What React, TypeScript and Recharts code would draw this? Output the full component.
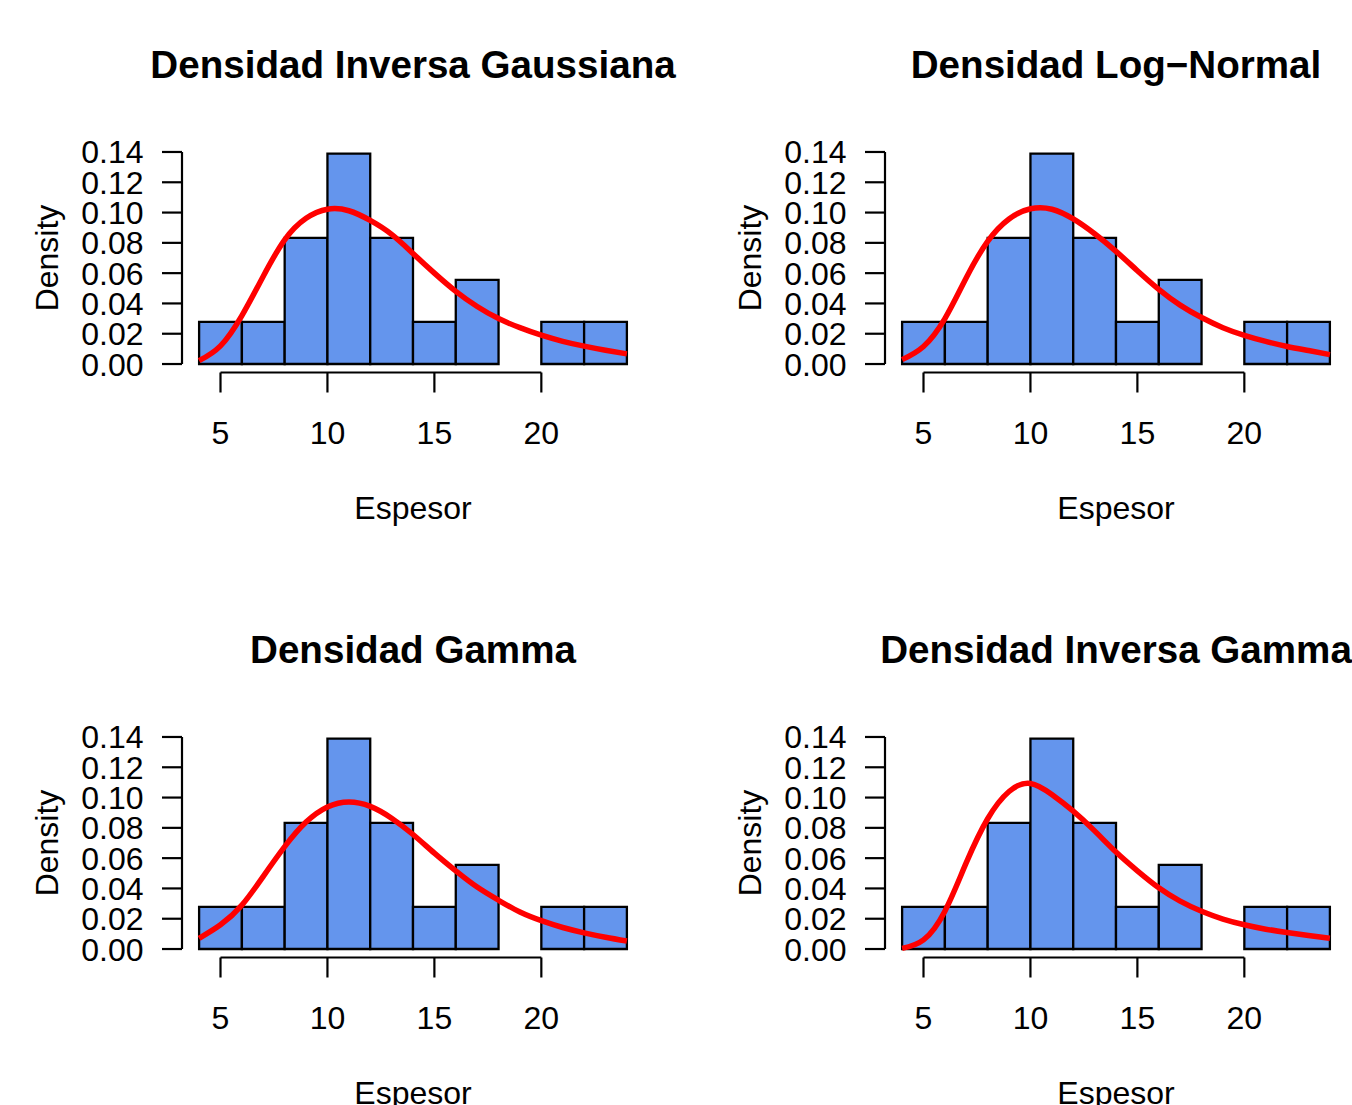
import React from 'react';
import { ComposedChart, XAxis, YAxis, Line, ReferenceArea, ReferenceLine } from 'recharts';

// Histogram bins (Espesor) and densities
const binStarts = [4, 6, 8, 10, 12, 14, 16, 18, 20, 22];
const binEnds = [6, 8, 10, 12, 14, 16, 18, 20, 22, 24];
const binDensity = [0.0278, 0.0278, 0.0833, 0.1389, 0.0833, 0.0278, 0.0556, 0, 0.0278, 0.0278];

// Fitted density curves
const curveX = [4, 5, 6, 7, 8, 9, 10, 11, 12, 13, 14, 15, 16, 17, 18, 19, 20, 21, 22, 23, 24];
const invGaussY = [0.0022, 0.012, 0.032, 0.058, 0.082, 0.0962, 0.1022, 0.1012, 0.0948, 0.0856, 0.073, 0.060, 0.048, 0.038, 0.030, 0.024, 0.019, 0.015, 0.0118, 0.0091, 0.0067];
const logNormY = [0.0029, 0.0116, 0.030, 0.057, 0.081, 0.0958, 0.1025, 0.1022, 0.0958, 0.086, 0.0744, 0.0616, 0.0493, 0.0389, 0.0307, 0.024, 0.0189, 0.0149, 0.0116, 0.0089, 0.0062];
const gammaY = [0.0071, 0.016, 0.029, 0.048, 0.0676, 0.0838, 0.0938, 0.0971, 0.0942, 0.0864, 0.0756, 0.0633, 0.0516, 0.0409, 0.0322, 0.0244, 0.0187, 0.0142, 0.0107, 0.0078, 0.0053];
const invGammaY = [0.0004, 0.006, 0.025, 0.057, 0.086, 0.104, 0.1093, 0.102, 0.091, 0.078, 0.064, 0.0516, 0.0404, 0.0316, 0.0249, 0.0198, 0.016, 0.0131, 0.0109, 0.0089, 0.0071];

const xTicks = [5, 10, 15, 20];
const yTicks = [0, 0.02, 0.04, 0.06, 0.08, 0.1, 0.12, 0.14];
const titles = ['Densidad Inversa Gaussiana', 'Densidad Log\u2212Normal', 'Densidad Gamma', 'Densidad Inversa Gamma'];
const xLabel = 'Espesor';
const yLabel = 'Density';

const X_DOMAIN: [number, number] = [3.2, 24.8];
const Y_DOMAIN: [number, number] = [-0.0056, 0.1456];

const FONT = "'Liberation Sans', Arial, Helvetica, sans-serif";
const PW = 703;
const PH = 585;
const TOP = 143.5;
const RIGHT = 59;
const YW = 182;
const XH = 212.5;

const XTick = (props: any) => {
  const { x, y, payload } = props;
  return (
    <g>
      <line x1={x} x2={x} y1={y} y2={y + 20} stroke="#000" strokeWidth={2.2} />
      <text x={x} y={y + 71} textAnchor="middle" fontSize={32} fontFamily={FONT} fill="#000">
        {payload.value}
      </text>
    </g>
  );
};

const YTick = (props: any) => {
  const { x, y, payload } = props;
  return (
    <g>
      <line x1={x - 20} x2={x} y1={y} y2={y} stroke="#000" strokeWidth={2.2} />
      <text x={x - 38.5} y={y + 11.5} textAnchor="end" fontSize={32} fontFamily={FONT} fill="#000">
        {Number(payload.value).toFixed(2)}
      </text>
    </g>
  );
};

function Panel({ title, curve, left, top }: { title: string; curve: number[]; left: number; top: number }) {
  const data = curveX.map((x, i) => ({ x, y: curve[i] }));
  const cx = YW + (PW - YW - RIGHT) / 2;
  const cy = TOP + (PH - TOP - XH) / 2;
  return (
    <div style={{ position: 'absolute', left, top, width: PW, height: PH }}>
      <ComposedChart width={PW} height={PH} data={data} margin={{ top: TOP, right: RIGHT, bottom: 0, left: 0 }}>
        <XAxis
          type="number"
          dataKey="x"
          domain={X_DOMAIN}
          ticks={xTicks}
          allowDataOverflow
          axisLine={false}
          tickLine={false}
          tickSize={0}
          tickMargin={0}
          height={XH}
          tick={<XTick />}
          interval={0}
        />
        <YAxis
          type="number"
          domain={Y_DOMAIN}
          ticks={yTicks}
          allowDataOverflow
          axisLine={false}
          tickLine={false}
          tickSize={0}
          tickMargin={0}
          width={YW}
          tick={<YTick />}
          interval={0}
        />
        {binStarts.map((b, i) =>
          binDensity[i] > 0 ? (
            <ReferenceArea
              key={'bin' + i}
              x1={b}
              x2={binEnds[i]}
              y1={0}
              y2={binDensity[i]}
              fill="#6495ED"
              fillOpacity={1}
              stroke="#000"
              strokeWidth={2.3}
              ifOverflow="visible"
            />
          ) : null
        )}
        <ReferenceLine
          segment={[{ x: xTicks[0], y: Y_DOMAIN[0] }, { x: xTicks[xTicks.length - 1], y: Y_DOMAIN[0] }]}
          stroke="#000"
          strokeWidth={2.2}
          ifOverflow="visible"
        />
        <ReferenceLine
          segment={[{ x: X_DOMAIN[0], y: yTicks[0] }, { x: X_DOMAIN[0], y: yTicks[yTicks.length - 1] }]}
          stroke="#000"
          strokeWidth={2.2}
          ifOverflow="visible"
        />
        <Line
          type="natural"
          dataKey="y"
          stroke="#FF0000"
          strokeWidth={5.5}
          dot={false}
          activeDot={false}
          isAnimationActive={false}
        />
      </ComposedChart>
      <svg width={PW} height={PH} style={{ position: 'absolute', left: 0, top: 0, pointerEvents: 'none' }}>
        <text x={cx} y={78} textAnchor="middle" fontSize={38.6} fontWeight="bold" fontFamily={FONT} fill="#000">
          {title}
        </text>
        <text x={cx} y={519} textAnchor="middle" fontSize={32} fontFamily={FONT} fill="#000">
          {xLabel}
        </text>
        <text x={58} y={cy} textAnchor="middle" fontSize={32} fontFamily={FONT} fill="#000" transform={`rotate(-90 58 ${cy})`}>
          {yLabel}
        </text>
      </svg>
    </div>
  );
}

export default function App() {
  const curves = [invGaussY, logNormY, gammaY, invGammaY];
  return (
    <div style={{ position: 'absolute', left: 0, top: 0, width: 1352, height: 1105, overflow: 'hidden', background: '#fff' }}>
      {curves.map((c, i) => (
        <Panel key={i} title={titles[i]} curve={c} left={(i % 2) * 703} top={Math.floor(i / 2) * 585} />
      ))}
    </div>
  );
}
